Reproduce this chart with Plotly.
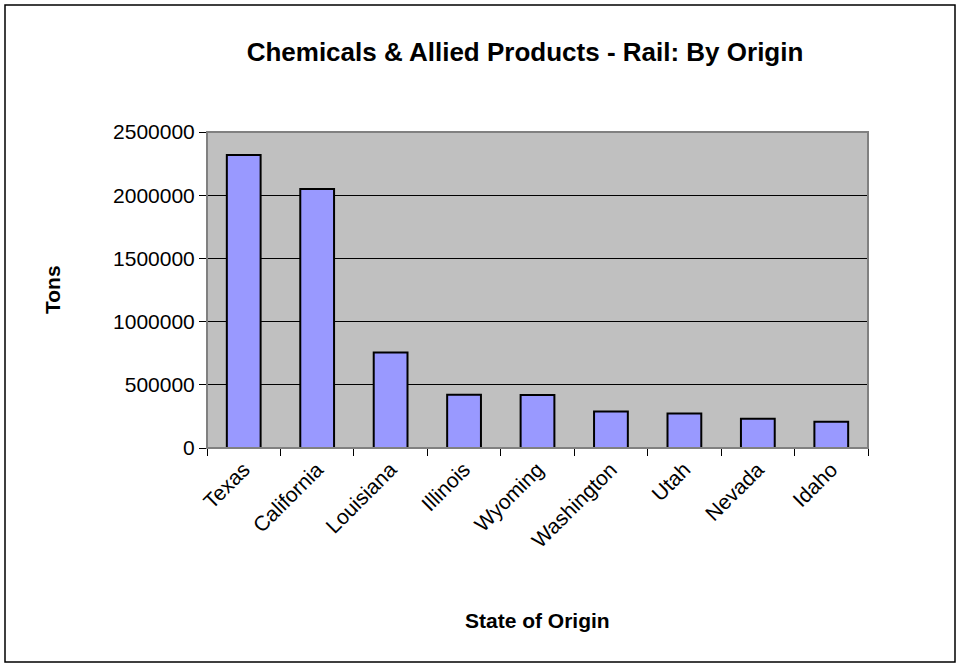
import plotly.graph_objects as go

# Rail tonnage of chemicals & allied products, by state of origin
states = ["Texas", "California", "Louisiana", "Illinois", "Wyoming",
          "Washington", "Utah", "Nevada", "Idaho"]
tons = [2318000, 2050000, 755000, 422000, 420000, 288000, 273000, 231000, 207000]
y_ticks = [0, 500000, 1000000, 1500000, 2000000, 2500000]

W, H = 961, 667
L, R, T, B = 207, 868, 132, 448          # plot area in pixels

FONT = "Liberation Sans, Arial, sans-serif"


def px_x(p):
    return (p - L) / (R - L)


def px_y(p):
    return (B - p) / (B - T)


fig = go.Figure(go.Bar(
    x=states, y=tons,
    marker=dict(color="#9999FF", line=dict(color="black", width=2)),
    width=0.46,
))

fig.update_layout(
    width=W, height=H,
    margin=dict(l=L, r=W - R, t=T, b=H - B, pad=0),
    paper_bgcolor="white",
    plot_bgcolor="#C0C0C0",
    showlegend=False,
    font=dict(family=FONT, color="black"),
    title=dict(text="<b>Chemicals & Allied Products - Rail: By Origin</b>",
               x=px_x(525), xanchor="center", xref="paper",
               y=1 - 52 / H, yanchor="middle",
               font=dict(size=26, family=FONT)),
    annotations=[
        dict(text="<b>Tons</b>", xref="paper", yref="paper",
             x=px_x(52), y=px_y(290), xanchor="center", yanchor="middle",
             textangle=-90, showarrow=False, font=dict(size=21, family=FONT)),
        dict(text="<b>State of Origin</b>", xref="paper", yref="paper",
             x=px_x(537), y=px_y(620), xanchor="center", yanchor="middle",
             showarrow=False, font=dict(size=21, family=FONT)),
    ],
    shapes=[
        # chart-area frame
        dict(type="rect", xref="paper", yref="paper",
             x0=px_x(5), x1=px_x(955), y0=px_y(662), y1=px_y(5),
             line=dict(color="black", width=1.5), fillcolor="rgba(0,0,0,0)",
             layer="below"),
        # plot-area border
        dict(type="rect", xref="paper", yref="paper", x0=0, x1=1, y0=0, y1=1,
             line=dict(color="#808080", width=2), fillcolor="rgba(0,0,0,0)",
             layer="above"),
    ],
)

fig.update_xaxes(
    type="category",
    tickangle=-45,
    tickfont=dict(size=21, family=FONT),
    ticks="outside", ticklen=7, tickcolor="black", tickwidth=1,
    tickson="boundaries",
    showline=True, linecolor="black", linewidth=1,
    showgrid=False,
)

fig.update_yaxes(
    range=[0, 2500000],
    tickvals=y_ticks,
    ticktext=[str(v) for v in y_ticks],
    tickfont=dict(size=21, family=FONT),
    ticks="outside", ticklen=7, tickcolor="black", tickwidth=1,
    showline=True, linecolor="black", linewidth=1,
    showgrid=True, gridcolor="black", gridwidth=1,
    zeroline=False,
)

fig.write_html("out.html")
